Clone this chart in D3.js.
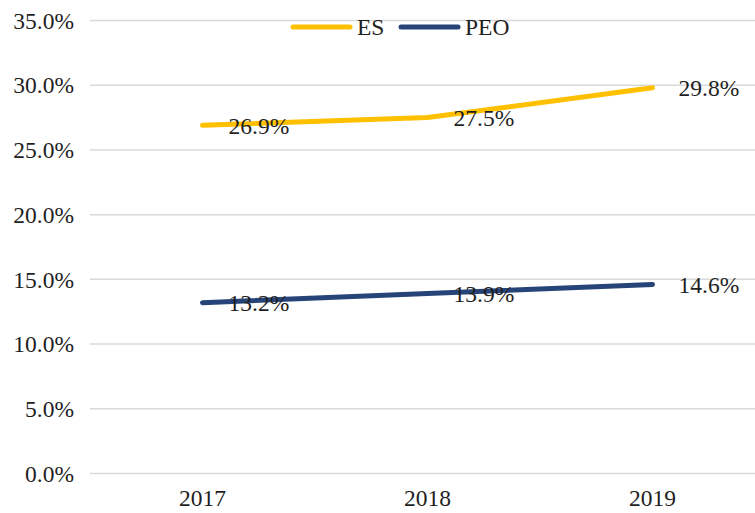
<!DOCTYPE html>
<html lang="en">
  <head>
    <meta charset="UTF-8" />
    <title>ES vs PEO</title>
    <style>
      body {
        margin: 0;
        background: #fff;
      }
      text {
        font-family: "Liberation Serif", "Times New Roman", serif;
        fill: #1f1f1f;
      }
    </style>
  </head>
  <body>
    <svg id="svg" width="755" height="513"></svg>
    <script src="https://cdn.jsdelivr.net/npm/d3@7"></script>
    <script>
      // DATA
      const years = ["2017", "2018", "2019"];
      const esValues = [26.9, 27.5, 29.8];
      const peoValues = [13.2, 13.9, 14.6];
      const yTicks = [0, 5, 10, 15, 20, 25, 30, 35];

      const series = [
        { name: "ES", color: "#FFC000", values: esValues },
        { name: "PEO", color: "#264478", values: peoValues },
      ];

      // CONSTANTS
      const WIDTH = 755;
      const HEIGHT = 513;
      const LEFT = 90;
      const FONT = 23.5;

      const svg = d3.select("#svg");

      const x = d3.scalePoint().domain(years).range([LEFT, 765]).padding(0.5);
      const y = d3.scaleLinear().domain([0, 35]).range([473.5, 20.5]);

      // gridlines
      svg
        .append("g")
        .selectAll("line")
        .data(yTicks)
        .enter()
        .append("line")
        .attr("x1", LEFT)
        .attr("x2", WIDTH)
        .attr("y1", (d) => y(d))
        .attr("y2", (d) => y(d))
        .attr("stroke", "#d9d9d9")
        .attr("stroke-width", 1.5);

      // y axis labels
      svg
        .append("g")
        .selectAll("text")
        .data(yTicks)
        .enter()
        .append("text")
        .attr("x", 74)
        .attr("y", (d) => y(d))
        .attr("dy", "0.35em")
        .attr("text-anchor", "end")
        .style("font-size", FONT + "px")
        .text((d) => d.toFixed(1) + "%");

      // x axis labels
      svg
        .append("g")
        .selectAll("text")
        .data(years)
        .enter()
        .append("text")
        .attr("x", (d) => x(d))
        .attr("y", 506)
        .attr("text-anchor", "middle")
        .style("font-size", FONT + "px")
        .text((d) => d);

      const line = d3
        .line()
        .x((d, i) => x(years[i]))
        .y((d) => y(d));

      // lines
      svg
        .append("g")
        .selectAll("path")
        .data(series)
        .enter()
        .append("path")
        .attr("d", (d) => line(d.values))
        .attr("fill", "none")
        .attr("stroke", (d) => d.color)
        .attr("stroke-width", 5)
        .attr("stroke-linecap", "round")
        .attr("stroke-linejoin", "round");

      // data labels, to the right of each point
      series.forEach((s) => {
        svg
          .append("g")
          .selectAll("text")
          .data(s.values)
          .enter()
          .append("text")
          .attr("x", (d, i) => x(years[i]) + 26)
          .attr("y", (d) => y(d))
          .attr("dy", "0.35em")
          .style("font-size", FONT + "px")
          .text((d) => d.toFixed(1) + "%");
      });

      // legend
      const legend = svg.append("g").attr("transform", "translate(0, 27)");
      const legendX = [293, 401];
      series.forEach((s, i) => {
        legend
          .append("line")
          .attr("x1", legendX[i])
          .attr("x2", legendX[i] + 57)
          .attr("stroke", s.color)
          .attr("stroke-width", 5)
          .attr("stroke-linecap", "round");
        legend
          .append("text")
          .attr("x", legendX[i] + 64)
          .attr("dy", "0.35em")
          .style("font-size", FONT + "px")
          .text(s.name);
      });
    </script>
  </body>
</html>
